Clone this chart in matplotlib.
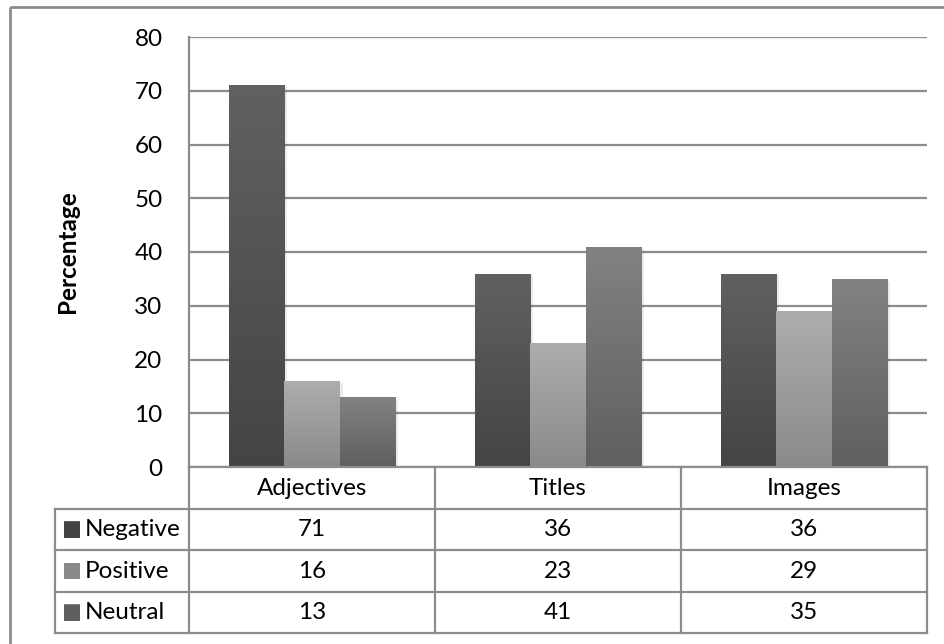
"""
Bar chart with data table: sentiment percentage by feature type.
"""
import numpy as np
import matplotlib.pyplot as plt
from matplotlib.colors import LinearSegmentedColormap
from matplotlib.patches import Rectangle

plt.rcParams['font.family'] = ['Lato', 'DejaVu Sans']

categories = ["Adjectives", "Titles", "Images"]
series_names = ["Negative", "Positive", "Neutral"]
negative = [71, 36, 36]
positive = [16, 23, 29]
neutral = [13, 41, 35]
series_values = [negative, positive, neutral]
yticks = [0, 10, 20, 30, 40, 50, 60, 70, 80]

# (top colour, bottom colour) for each series gradient
gradients = [("#616161", "#444444"), ("#adadad", "#8a8a8a"), ("#828282", "#5f5f5f")]

W, H = 945, 644
GRID = "#8c8c8c"
FS = 17.5

fig = plt.figure(figsize=(W / 100, H / 100), dpi=100)

# plot area in pixels
px_left, px_right, px_top, px_bottom = 189, 927, 37, 467
ax = fig.add_axes([px_left / W, 1 - px_bottom / H, (px_right - px_left) / W, (px_bottom - px_top) / H])

x = np.arange(len(categories))
width = 0.224
for i, (name, vals) in enumerate(zip(series_names, series_values)):
    offset = (i - 1) * width
    # soft shadow
    ax.bar(x + offset + 0.012, vals, width, bottom=-0.35, color="#000000", alpha=0.08, zorder=2)
    bars = ax.bar(x + offset, vals, width, color=gradients[i][1], zorder=3, label=name)
    cmap = LinearSegmentedColormap.from_list(name, [gradients[i][1], gradients[i][0]])
    for b in bars:
        bx, by = b.get_x(), b.get_y()
        bw, bh = b.get_width(), b.get_height()
        grad = np.linspace(0, 1, 256).reshape(-1, 1)
        im = ax.imshow(grad, cmap=cmap, origin="lower", aspect="auto",
                       extent=[bx, bx + bw, by, by + bh], zorder=4)
        im.set_clip_path(b)

ax.set_xlim(-0.5, len(categories) - 0.5)
ax.set_ylim(0, 80)
ax.set_yticks(yticks)
ax.set_yticklabels([str(t) for t in yticks], fontsize=FS)
ax.tick_params(axis="y", length=0, pad=19)
ax.set_xticks([])
ax.yaxis.grid(True, color=GRID, linewidth=1.6, zorder=0)
ax.set_axisbelow(True)
for s in ["top", "right", "bottom"]:
    ax.spines[s].set_visible(False)
ax.spines["left"].set_color(GRID)
ax.spines["left"].set_linewidth(1.6)
ax.set_ylabel("Percentage", fontsize=FS, fontweight="bold", labelpad=40)

# overlay in pixel coordinates for the data table and outer border
ov = fig.add_axes([0, 0, 1, 1], facecolor="none")
ov.set_xlim(0, W)
ov.set_ylim(H, 0)
ov.axis("off")

ov.add_patch(Rectangle((10, 7), W, H, fill=False, edgecolor=GRID, linewidth=2))

row_tops = [467, 509, 550, 592, 633]
legend_left = 55
col_w = (px_right - px_left) / len(categories)
col_edges = [px_left + k * col_w for k in range(len(categories) + 1)]
lw = 1.6

# horizontal lines
ov.plot([px_left, px_right], [row_tops[0]] * 2, color=GRID, lw=lw)
for yy in row_tops[1:]:
    ov.plot([legend_left, px_right], [yy] * 2, color=GRID, lw=lw)
# vertical lines
ov.plot([legend_left] * 2, [row_tops[1], row_tops[-1]], color=GRID, lw=lw)
for xx in col_edges:
    ov.plot([xx] * 2, [row_tops[0], row_tops[-1]], color=GRID, lw=lw)

# header row
for k, cat in enumerate(categories):
    ov.text((col_edges[k] + col_edges[k + 1]) / 2, (row_tops[0] + row_tops[1]) / 2, cat,
            ha="center", va="center", fontsize=FS, color="#000000")

# data rows
for i, (name, vals) in enumerate(zip(series_names, series_values)):
    yc = (row_tops[i + 1] + row_tops[i + 2]) / 2
    ov.add_patch(Rectangle((64, yc - 8), 16, 16, facecolor=gradients[i][1], edgecolor="none"))
    cmap = LinearSegmentedColormap.from_list(name + "_key", [gradients[i][1], gradients[i][0]])
    ov.imshow(np.linspace(0, 1, 64).reshape(-1, 1), cmap=cmap, origin="lower", aspect="auto",
              extent=[64, 80, yc + 8, yc - 8])
    ov.text(85, yc, name, ha="left", va="center", fontsize=FS)
    for k, v in enumerate(vals):
        ov.text((col_edges[k] + col_edges[k + 1]) / 2, yc, str(v),
                ha="center", va="center", fontsize=FS)

ov.set_xlim(0, W)
ov.set_ylim(H, 0)

fig.savefig("out.png", dpi=100)
